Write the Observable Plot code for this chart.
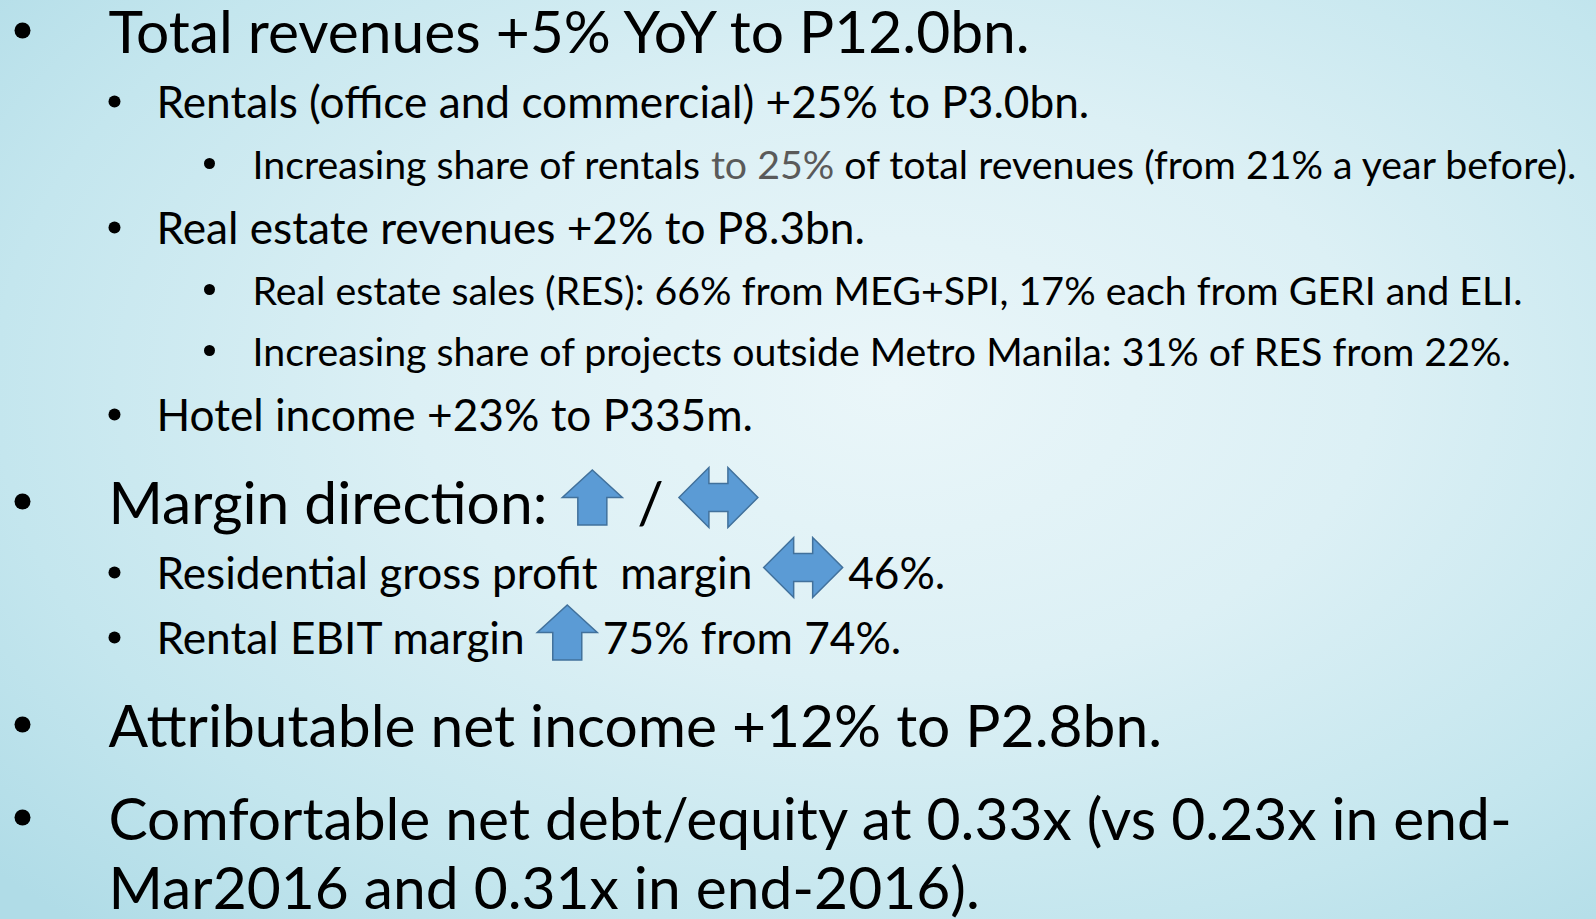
<!DOCTYPE html>
<html>
<head>
<meta charset="utf-8">
<script src="https://cdn.jsdelivr.net/npm/d3@7"></script>
<script src="https://cdn.jsdelivr.net/npm/@observablehq/plot@0.6"></script>
<style>
  html, body { margin: 0; padding: 0; width: 1596px; height: 919px; overflow: hidden; }
  body {
    background: radial-gradient(ellipse 75% 80% at 56% 42%, #eaf6f9 0%, #dcf0f5 40%, #c4e6ee 75%, #b0dce7 100%);
  }
  #chart svg { display: block; }
</style>
</head>
<body>
<div id="chart"></div>
<script>
// ---- Slide content ----
const lineLevels  = [1, 2, 3, 2, 3, 3, 2, 1, 2, 2, 1, 1, 1];
const lineBullets = [true, true, true, true, true, true, true, true, true, true, true, true, false];
const lineSegments = [
  [["t", "Total revenues +5% YoY to P12.0bn."]],
  [["t", "Rentals (office and commercial) +25% to P3.0bn."]],
  [["t", "Increasing share of rentals "], ["g", "to 25%"], ["t", " of total revenues (from 21% a year before)."]],
  [["t", "Real estate revenues +2% to P8.3bn."]],
  [["t", "Real estate sales (RES): 66% from MEG+SPI, 17% each from GERI and ELI."]],
  [["t", "Increasing share of projects outside Metro Manila: 31% of RES from 22%."]],
  [["t", "Hotel income +23% to P335m."]],
  [["t", "Margin direction: "], ["up"], ["t", " / "], ["lr"]],
  [["t", "Residential gross profit\u00a0 margin "], ["lr"], ["t", "\u200946%."]],
  [["t", "Rental EBIT margin "], ["up"], ["t", "\u200975% from 74%."]],
  [["t", "Attributable net income +12% to P2.8bn."]],
  [["t", "Comfortable net debt/equity at 0.33x (vs 0.23x in end-"]],
  [["t", "Mar2016 and 0.31x in end-2016)."]]
];

// ---- Styles (layout in code) ----
const FONT = "Lato";
const fontSize   = {1: 58.7, 2: 44.2, 3: 39.3};
const textIndent = {1: 108, 2: 156, 3: 252};
const bulletX    = {1: 22, 2: 114, 3: 209};
const bulletR    = {1: 8, 2: 6, 3: 5.5};
const bulletLift = {1: 22, 2: 16, 3: 15};
const lineStep   = {1: 93, 2: 65, 3: 61, cont: 69};
const arrowLift  = {1: 26, 2: 21};
const arrowHalfW = {up: 30, lr: 39.5};
const firstBaseline = 52;

const canvas = document.createElement("canvas");
const ctx = canvas.getContext("2d");
function measure(text, size) {
  ctx.font = `${size}px ${FONT}`;
  return ctx.measureText(text).width;
}

const textRows = [], bulletRows = [], arrowRows = [];
let baseline = firstBaseline;
lineSegments.forEach((segs, i) => {
  const lvl = lineLevels[i];
  if (i > 0) baseline += lineBullets[i] ? lineStep[lvl] : lineStep.cont;
  const size = fontSize[lvl];
  if (lineBullets[i]) bulletRows.push({x: bulletX[lvl], y: baseline - bulletLift[lvl], r: bulletR[lvl]});
  let cx = textIndent[lvl];
  for (const [kind, txt] of segs) {
    if (kind === "t" || kind === "g") {
      const lead = txt.length - txt.replace(/^[\s\u2009]+/, "").length;
      const leadW = measure(txt.slice(0, lead), size);
      const body = txt.replace(/^[\s\u2009]+|\s+$/g, "");
      textRows.push({x: cx + leadW, y: baseline, text: body, size, color: kind === "g" ? "#5a5a5a" : "#000000"});
      cx += measure(txt, size);
    } else {
      const hw = arrowHalfW[kind];
      arrowRows.push({x: cx + hw, y: baseline - arrowLift[lvl], kind});
      cx += 2 * hw;
    }
  }
});

// custom symbols (unit: r = 30px)
const upArrow = {
  draw(c, size) {
    const k = Math.sqrt(size / Math.PI) / 30;
    const p = [[0,-27.5],[30,0],[14.5,0],[14.5,27.5],[-14.5,27.5],[-14.5,0],[-30,0]];
    c.moveTo(p[0][0]*k, p[0][1]*k);
    for (const q of p.slice(1)) c.lineTo(q[0]*k, q[1]*k);
    c.closePath();
  }
};
const lrArrow = {
  draw(c, size) {
    const k = Math.sqrt(size / Math.PI) / 30;
    const p = [[-39.5,0],[-9.5,-30],[-9.5,-14],[9.5,-14],[9.5,-30],[39.5,0],[9.5,30],[9.5,14],[-9.5,14],[-9.5,30]];
    c.moveTo(p[0][0]*k, p[0][1]*k);
    for (const q of p.slice(1)) c.lineTo(q[0]*k, q[1]*k);
    c.closePath();
  }
};

const chart = Plot.plot({
  width: 1596,
  height: 919,
  margin: 0,
  x: {type: "identity", axis: null},
  y: {type: "identity", axis: null},
  color: {type: "identity"},
  r: {type: "identity"},
  style: {background: "transparent", overflow: "visible"},
  marks: [
    Plot.dot(bulletRows, {x: "x", y: "y", r: "r", fill: "#000000", stroke: null}),
    Plot.text(textRows, {x: "x", y: "y", text: "text", fontSize: "size", fill: "color",
      fontFamily: FONT, textAnchor: "start", lineAnchor: "bottom"}),
    Plot.dot(arrowRows.filter(d => d.kind === "up"), {x: "x", y: "y", r: 30, symbol: upArrow,
      fill: "#5b9bd5", stroke: "#41719c", strokeWidth: 1.5}),
    Plot.dot(arrowRows.filter(d => d.kind === "lr"), {x: "x", y: "y", r: 30, symbol: lrArrow,
      fill: "#5b9bd5", stroke: "#41719c", strokeWidth: 1.5})
  ]
});
document.getElementById("chart").appendChild(chart);
</script>
</body>
</html>
